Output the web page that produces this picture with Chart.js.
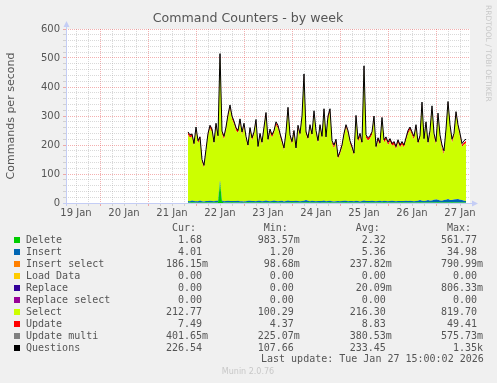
<!DOCTYPE html>
<html>
<head>
<meta charset="utf-8">
<script src="https://cdn.jsdelivr.net/npm/chart.js@4.4.1/dist/chart.umd.min.js"></script>
<style>
html, body { margin: 0; padding: 0; background: #f0f0f0; }
</style>
</head>
<body>
<canvas id="commandsChart" width="497" height="383"></canvas>
<script>
// one value per hour, hours counted from 19 Jan 00:00
const firstHour = 68;

const questions = [
    245, 235, 238, 205, 262, 215, 228, 150, 130, 185, 240, 268, 255, 210, 275, 232, 515, 248, 230, 262,
    305, 338, 300, 282, 260, 250, 290, 245, 275, 230, 200, 260, 225, 245, 288, 195, 240, 210, 262, 312,
    220, 255, 235, 250, 280, 268, 240, 215, 190, 245, 330, 235, 212, 250, 190, 268, 240, 300, 445, 245,
    225, 270, 238, 318, 250, 215, 270, 230, 325, 228, 300, 325, 215, 200, 220, 160, 178, 200, 240, 270,
    250, 215, 195, 172, 302, 220, 240, 210, 473, 235, 225, 232, 245, 300, 195, 225, 208, 295, 218, 228,
    210, 222, 205, 212, 195, 218, 200, 212, 200, 225, 250, 262, 245, 230, 270, 210, 232, 348, 222, 280,
    210, 250, 335, 240, 212, 310, 235, 200, 180, 255, 350, 270, 220, 240, 315, 270, 240, 205, 215, 220
];

const select = [
    228, 219, 220, 189, 243, 199, 211, 135, 116, 169, 222, 250, 238, 194, 256, 215, 425, 229, 213, 244,
    286, 318, 282, 265, 243, 233, 271, 228, 257, 213, 184, 242, 208, 228, 269, 179, 223, 193, 244, 292,
    203, 237, 218, 232, 262, 250, 222, 198, 174, 227, 310, 218, 195, 232, 174, 250, 222, 281, 424, 228,
    208, 252, 221, 298, 232, 198, 252, 213, 305, 211, 281, 305, 198, 184, 203, 145, 162, 184, 222, 252,
    232, 198, 179, 157, 283, 203, 222, 193, 452, 218, 208, 215, 227, 281, 179, 208, 192, 276, 201, 211,
    193, 205, 189, 195, 179, 201, 184, 195, 184, 208, 232, 244, 227, 213, 252, 193, 214, 327, 205, 261,
    188, 227, 311, 217, 189, 286, 212, 177, 157, 232, 325, 247, 197, 217, 291, 246, 217, 183, 194, 199
];

const update = [
    9, 8, 10, 9, 8, 9, 11, 8, 7, 8, 9, 10, 9, 8, 10, 9, 12, 9, 8, 9,
    10, 9, 8, 9, 10, 11, 9, 8, 7, 8, 9, 10, 9, 8, 9, 10, 8, 9, 10, 12,
    9, 8, 9, 10, 9, 8, 9, 10, 8, 9, 11, 9, 8, 9, 10, 9, 8, 9, 10, 13,
    9, 8, 10, 9, 8, 9, 10, 9, 11, 8, 9, 10, 8, 7, 8, 9, 8, 9, 10, 9,
    8, 9, 9, 8, 10, 9, 8, 9, 12, 9, 8, 9, 10, 9, 8, 9, 10, 8, 9, 9,
    8, 9, 10, 9, 8, 9, 9, 8, 9, 10, 9, 10, 9, 8, 9, 10, 11, 9, 8, 9,
    8, 9, 10, 9, 8, 9, 10, 8, 7, 8, 10, 9, 8, 9, 10, 9, 8, 8, 7, 8
];

const insert = [
    5, 4, 6, 5, 4, 5, 7, 4, 3, 4, 5, 6, 5, 4, 5, 6, 8, 5, 4, 5,
    6, 5, 4, 5, 5, 6, 4, 5, 3, 4, 5, 6, 5, 5, 4, 6, 5, 4, 5, 7,
    5, 4, 5, 6, 5, 4, 5, 6, 4, 5, 7, 5, 4, 5, 6, 5, 4, 5, 6, 8,
    5, 4, 6, 5, 4, 5, 6, 5, 7, 4, 5, 5, 4, 3, 4, 5, 4, 5, 6, 5,
    4, 5, 5, 4, 6, 5, 4, 5, 7, 5, 4, 5, 6, 5, 4, 5, 6, 4, 5, 5,
    4, 5, 6, 5, 4, 5, 5, 4, 5, 6, 5, 6, 5, 4, 5, 6, 7, 6, 5, 6,
    8, 6, 7, 9, 10, 8, 7, 6, 8, 9, 12, 8, 7, 10, 11, 12, 9, 8, 6, 5
];

const deletes = [
    2, 2, 3, 2, 2, 1, 2, 2, 2, 3, 2, 2, 2, 2, 3, 2, 70, 4, 2, 2,
    2, 2, 3, 2, 2, 2, 2, 1, 2, 2, 3, 2, 2, 2, 2, 2, 3, 2, 2, 2,
    2, 2, 2, 3, 2, 2, 2, 2, 1, 2, 2, 2, 3, 2, 2, 2, 2, 2, 2, 2,
    3, 2, 2, 2, 2, 2, 1, 2, 2, 2, 2, 3, 2, 2, 2, 2, 2, 2, 2, 3,
    2, 2, 2, 2, 2, 2, 1, 2, 2, 2, 3, 2, 2, 2, 2, 2, 2, 2, 3, 2,
    2, 2, 2, 2, 2, 2, 2, 3, 2, 2, 2, 2, 2, 2, 2, 2, 3, 2, 2, 2,
    2, 2, 2, 2, 2, 3, 2, 2, 2, 2, 2, 2, 3, 2, 2, 2, 2, 2, 2, 2
];

// legend table
const seriesNames = ['Delete', 'Insert', 'Insert select', 'Load Data', 'Replace', 'Replace select', 'Select', 'Update', 'Update multi', 'Questions'];
const seriesColors = ['#00cc00', '#0066b3', '#ff8000', '#ffcc00', '#330099', '#990099', '#ccff00', '#ff0000', '#808080', '#000000'];
const curValues = ['1.68', '4.01', '186.15m', '0.00', '0.00', '0.00', '212.77', '7.49', '401.65m', '226.54'];
const minValues = ['983.57m', '1.20', '98.68m', '0.00', '0.00', '0.00', '100.29', '4.37', '225.07m', '107.66'];
const avgValues = ['2.32', '5.36', '237.82m', '0.00', '20.09m', '0.00', '216.30', '8.83', '380.53m', '233.45'];
const maxValues = ['561.77', '34.98', '790.99m', '0.00', '806.33m', '0.00', '819.70', '49.41', '575.73m', '1.35k'];
const lastUpdate = 'Last update: Tue Jan 27 15:00:02 2026';

const dayNames = ['19 Jan', '20 Jan', '21 Jan', '22 Jan', '23 Jan', '24 Jan', '25 Jan', '26 Jan', '27 Jan'];

const toPoints = arr => arr.map((v, i) => ({ x: firstHour + i, y: v }));

function fmtValue(s) {
    const last = s.slice(-1);
    if (/[a-z]/i.test(last)) return s.slice(0, -1).padStart(6) + last;
    return s.padStart(6) + ' ';
}

const muninText = {
    id: 'muninText',
    beforeDraw(chart) {
        const ctx = chart.ctx;
        const area = chart.chartArea;
        ctx.save();
        ctx.fillStyle = '#f0f0f0';
        ctx.fillRect(0, 0, chart.width, chart.height);
        ctx.fillStyle = '#ffffff';
        ctx.fillRect(area.left, area.top, area.right - area.left, area.bottom - area.top);
        ctx.restore();
    },
    afterDraw(chart) {
        const ctx = chart.ctx;
        const area = chart.chartArea;
        ctx.save();

        // axis lines with arrows
        ctx.strokeStyle = '#c4cdf5';
        ctx.fillStyle = '#c4cdf5';
        ctx.lineWidth = 1;
        ctx.beginPath();
        ctx.moveTo(area.left + 0.5, area.bottom + 3);
        ctx.lineTo(area.left + 0.5, area.top - 3);
        ctx.moveTo(area.left - 3, area.bottom + 0.5);
        ctx.lineTo(area.right + 3, area.bottom + 0.5);
        ctx.stroke();
        ctx.beginPath();
        ctx.moveTo(area.left + 0.5, area.top - 8);
        ctx.lineTo(area.left - 2.5, area.top - 2);
        ctx.lineTo(area.left + 3.5, area.top - 2);
        ctx.fill();
        ctx.beginPath();
        ctx.moveTo(area.right + 8, area.bottom + 0.5);
        ctx.lineTo(area.right + 2, area.bottom - 2.5);
        ctx.lineTo(area.right + 2, area.bottom + 3.5);
        ctx.fill();

        // title
        ctx.fillStyle = '#555';
        ctx.font = '12.6px "DejaVu Sans"';
        ctx.textAlign = 'center';
        ctx.textBaseline = 'middle';
        ctx.fillText('Command Counters - by week', 248, 19);

        // y axis title
        ctx.save();
        ctx.translate(11, 116);
        ctx.rotate(-Math.PI / 2);
        ctx.font = '11px "DejaVu Sans"';
        ctx.fillText('Commands per second', 0, 0);
        ctx.restore();

        // watermark
        ctx.save();
        ctx.translate(488, 5);
        ctx.rotate(Math.PI / 2);
        ctx.font = '7.5px "DejaVu Sans"';
        ctx.fillStyle = '#c8c8c8';
        ctx.textAlign = 'left';
        ctx.fillText('RRDTOOL / TOBI OETIKER', 0, 0);
        ctx.restore();

        // legend
        const cols = [166, 257.7, 349.7, 441];
        ctx.font = '10px "DejaVu Sans Mono"';
        ctx.textAlign = 'left';
        ctx.fillStyle = '#555';
        ['Cur:', 'Min:', 'Avg:', 'Max:'].forEach((h, i) => ctx.fillText(h, cols[i] + 6, 228));
        seriesNames.forEach((name, i) => {
            const y = 240 + i * 12;
            ctx.fillStyle = seriesColors[i];
            ctx.fillRect(14, y - 3, 6, 6);
            ctx.fillStyle = '#555';
            ctx.fillText(name, 26, y);
            [curValues, minValues, avgValues, maxValues].forEach((vals, c) => {
                ctx.fillText(fmtValue(vals[i]), cols[c], y);
            });
        });
        ctx.fillText(lastUpdate, 261, 359.5);

        ctx.fillStyle = '#c8c8c8';
        ctx.font = '8px "DejaVu Sans"';
        ctx.textAlign = 'center';
        ctx.fillText('Munin 2.0.76', 248, 372);
        ctx.restore();
    }
};

const minorGrid = 'rgba(160, 160, 160, 0.4)';
const majorGrid = 'rgba(230, 80, 80, 0.45)';

Chart.defaults.font.family = "'DejaVu Sans', sans-serif";
Chart.defaults.font.size = 10;
Chart.defaults.color = '#555';

const areaStyle = (label, color, fill) => ({
    label: label,
    backgroundColor: color,
    borderColor: 'transparent',
    borderWidth: 0,
    pointRadius: 0,
    fill: fill,
    stack: 'commands'
});

const ctx = document.getElementById('commandsChart').getContext('2d');
const commandsChart = new Chart(ctx, {
    type: 'line',
    data: {
        datasets: [
            Object.assign(areaStyle('Delete', seriesColors[0], 'origin'), { data: toPoints(deletes) }),
            Object.assign(areaStyle('Insert', seriesColors[1], '-1'), { data: toPoints(insert) }),
            Object.assign(areaStyle('Select', seriesColors[6], '-1'), { data: toPoints(select) }),
            Object.assign(areaStyle('Update', seriesColors[7], '-1'), { data: toPoints(update) }),
            {
                label: 'Questions',
                data: toPoints(questions),
                borderColor: '#000000',
                borderWidth: 1,
                pointRadius: 0,
                fill: false,
                stack: 'questions',
                order: -1
            }
        ]
    },
    plugins: [muninText],
    options: {
        responsive: false,
        animation: false,
        events: [],
        layout: {
            padding: { left: 0, top: 29, right: 27, bottom: 160 }
        },
        elements: { line: { tension: 0 } },
        plugins: {
            legend: { display: false },
            tooltip: { enabled: false },
            title: { display: false }
        },
        scales: {
            x: {
                type: 'linear',
                min: 7,
                max: 209,
                afterFit: function(scale) { scale.height = 20; },
                border: { display: false, dash: [1, 1] },
                grid: {
                    color: c => (c.tick && c.tick.value % 24 === 0) ? majorGrid : minorGrid,
                    tickLength: 3
                },
                ticks: {
                    stepSize: 6,
                    includeBounds: false,
                    autoSkip: false,
                    maxRotation: 0,
                    padding: 1,
                    color: '#555',
                    callback: function(value) {
                        if (value % 24 !== 12) return '';
                        return dayNames[(value - 12) / 24];
                    }
                }
            },
            y: {
                stacked: true,
                min: 0,
                max: 600,
                afterFit: function(scale) { scale.width = 66; },
                border: { display: false, dash: [1, 1] },
                grid: {
                    color: c => (c.tick && c.tick.value % 100 === 0) ? majorGrid : minorGrid,
                    tickLength: 3
                },
                ticks: {
                    stepSize: 20,
                    autoSkip: false,
                    padding: 3,
                    color: '#555',
                    callback: function(value) {
                        return value % 100 === 0 ? value : '';
                    }
                }
            }
        }
    }
});
</script>
</body>
</html>
